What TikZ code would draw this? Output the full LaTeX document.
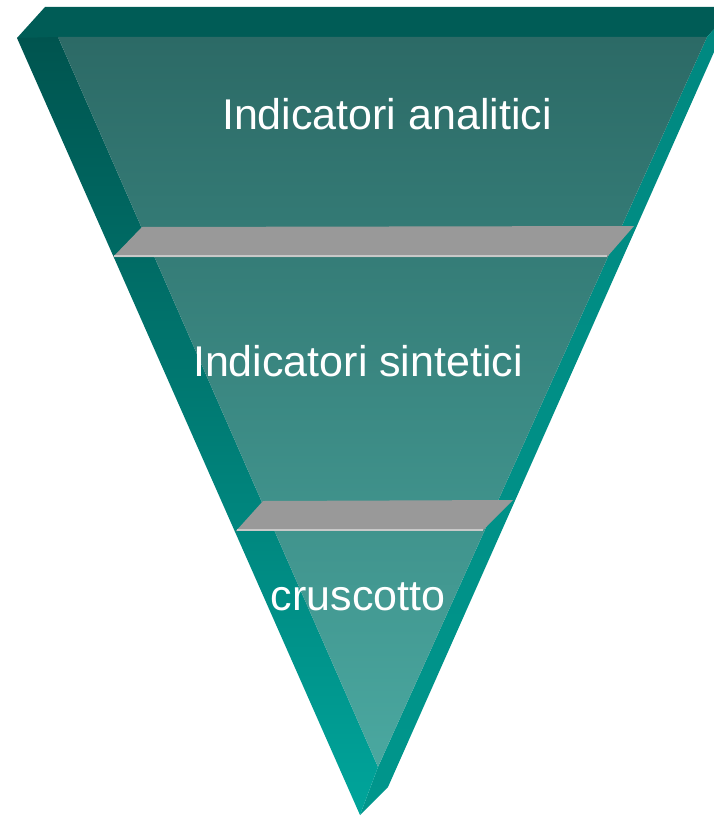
\documentclass[tikz,border=0pt]{standalone}
\usepackage{fontspec}
\setmainfont{Liberation Sans}

\definecolor{topteal}{RGB}{0,92,86}
\definecolor{leftdark}{RGB}{0,84,79}
\definecolor{leftlight}{RGB}{0,165,155}
\definecolor{rightteal}{RGB}{0,136,128}
\definecolor{rightlow}{RGB}{0,150,140}
\definecolor{frontdark}{RGB}{44,106,102}
\definecolor{frontlight}{RGB}{74,168,160}
\definecolor{slabgray}{RGB}{153,153,153}
\definecolor{slabedge}{RGB}{200,200,200}

\tikzset{
  bandtext/.style={text=white, font=\fontsize{43}{51}\selectfont, anchor=base, inner sep=0pt},
  slabbox/.style={fill=slabgray},
  slabline/.style={slabedge, line width=2.5pt},
}

\begin{document}
\begin{tikzpicture}[x=1pt,y=-1pt]
\useasboundingbox (0,0) rectangle (714,816);
\clip (0,0) rectangle (714,816);

% funnel faces
\fill[topteal] (45,7) -- (734,7) -- (707,37) -- (17,38) -- cycle;
\shade[top color=rightteal, bottom color=rightlow] (734,7) -- (707,37) -- (378,767) -- (360,815) -- (388,787) -- cycle;
\shade[top color=leftdark, bottom color=leftlight] (17,38) -- (58,37) -- (378,767) -- (360,815) -- cycle;
\shade[top color=frontdark, bottom color=frontlight] (58,37) -- (707,37) -- (378,767) -- cycle;

% separating slabs
\fill[slabbox] (113,257) -- (142,227) -- (634,226) -- (607,257) -- cycle;
\draw[slabline] (114,256) -- (607,256);
\fill[slabbox] (236,531) -- (263,501) -- (513,500) -- (483,530) -- cycle;
\draw[slabline] (237,530) -- (483,530);

% labels
\node[bandtext] (analitici) at (387,129) {Indicatori analitici};
\node[bandtext] (sintetici) at (358,376) {Indicatori sintetici};
\node[bandtext] (cruscotto) at (358,610) {cruscotto};
\end{tikzpicture}
\end{document}
